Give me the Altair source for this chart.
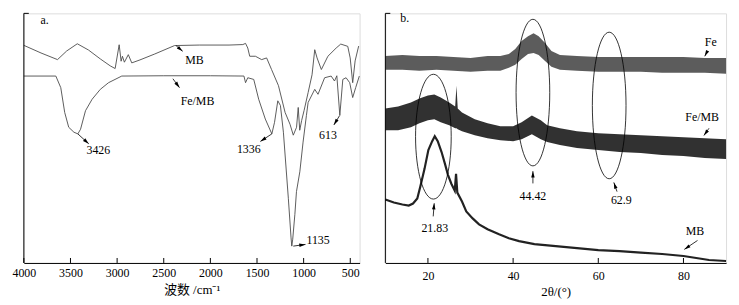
import altair as alt
import pandas as pd
import numpy as np

SERIF = "Liberation Serif, Times New Roman, serif"
CJK = "Liberation Serif, Noto Sans CJK SC, serif"

# ---------------- panel a : FTIR ----------------
mb_ir_wn = [4000, 3816, 3639, 3541, 3427, 3307, 3180, 3074, 3021, 2978,
            2957, 2943, 2922, 2880, 2843, 2755, 2596, 2384, 2119, 1800,
            1652, 1623, 1599, 1578, 1517, 1450, 1397, 1344, 1270, 1199,
            1146, 1111, 1076, 1058, 1042, 1021, 995, 952, 910, 881,
            856, 810, 740, 651, 602, 527, 501, 474, 448, 410]
mb_ir_t = [219.7, 212, 205.3, 214, 221.3, 215, 206, 199, 196.3, 220.3,
           203.7, 208.7, 202.7, 210.3, 202, 205, 211, 219.5, 220, 220,
           220.5, 221.7, 217, 208.7, 208.7, 205.3, 207, 195.3, 179, 152,
           140, 129, 137, 157, 134, 144, 154, 172, 190, 215.3,
           207, 195.3, 208.7, 217, 221, 218.7, 207, 182, 204, 219]

femb_ir_wn = [4000, 3657, 3604, 3562, 3519, 3463, 3421, 3392, 3339, 3268,
              3180, 3092, 2950, 2500, 2000, 1640, 1623, 1599, 1535, 1482,
              1411, 1341, 1312, 1277, 1249, 1217, 1164, 1135, 1127, 1117,
              1094, 1077, 1041, 1006, 970, 952, 881, 846, 775, 705,
              669, 644, 612, 580, 545, 506, 474, 442, 403]
femb_ir_t = [188.7, 188.7, 177, 152, 137, 132, 130.3, 135, 153.7, 165.3,
             175.3, 182, 188.7, 189, 189, 188.7, 182, 187, 185.3, 165.3,
             145.3, 130.3, 142, 163.7, 159, 132, 65.3, 25.3, 17, 24,
             49, 72, 92, 122, 149, 162, 175.3, 170.3, 187, 188.7,
             183.7, 189, 149, 185.3, 187, 182, 167, 177, 188.7]

ftir_ticks = [4000, 3500, 3000, 2500, 2000, 1500, 1000, 500]

a_text = ["a.", "MB", "Fe/MB", "3426", "1336", "613", "1135"]
a_text_wn = [3822, 2170, 2138, 3201, 1588, 739, 845]
a_text_t = [245, 205.3, 163.7, 114, 115.3, 129.3, 22.7]
a_text_align = ["left", "center", "center", "center", "center", "center", "center"]

a_arrow_wn1 = [2367, 2402, 3421, 1341, 615, 1111]
a_arrow_t1 = [219.3, 186, 130.3, 130.3, 148.7, 17]
a_arrow_wn2 = [2297, 2331, 3304, 1464, 676, 980]
a_arrow_t2 = [213.7, 177, 120.3, 122.7, 139.3, 18.7]

# ---------------- panel b : XRD ----------------
fe_tt = [10, 14, 18, 22, 26, 30, 34, 37, 39, 40.5, 42, 43.5, 44.8, 46, 47.5,
         49, 51, 55, 60, 65, 70, 75, 80, 85, 90]
fe_hi = [209, 210, 209, 209, 208, 207, 209, 209, 211, 216, 224, 229, 232, 229,
         222, 214, 210, 209, 208, 208, 208, 208, 208, 207, 207]
fe_lo = [195, 195, 194, 195, 194, 193, 194, 194, 197, 200, 206, 211, 212, 210,
         204, 198, 195, 194, 193, 193, 193, 192, 192, 192, 191]

femb_tt = [10, 13, 16, 18, 20, 21.5, 23, 25, 26.4, 26.7, 27.0, 28, 31, 34, 37,
           40, 42, 44.4, 46.5, 48, 51, 55, 60, 65, 70, 75, 80, 85, 90]
femb_hi = [156, 158, 162, 166, 169, 170, 167, 162, 158, 179, 156, 152, 145,
           141, 138, 138, 142, 149, 144, 139, 136, 133, 131, 130, 129, 128,
           127, 126, 125]
femb_lo = [134, 134, 137, 141, 144, 145, 142, 139, 136, 136, 135, 133, 129,
           126, 124, 123, 125, 130, 125, 122, 119, 116, 114, 112, 111, 109,
           108, 106, 105]

mb_tt = [10, 12, 14, 15.5, 16.5, 17.5, 18.2, 19.2, 20.1, 21,
         21.6, 22.3, 23.2, 24, 24.7, 25.5, 26.3, 26.6, 26.9, 28,
         29, 30.5, 32, 34, 36.7, 39, 41.4, 45, 50, 55,
         60, 65, 70, 75, 80, 83, 86, 88, 90]
mb_int = [64, 61, 59, 58, 60, 65, 77, 95, 114, 123,
          128, 123, 112, 100, 89, 80, 73, 90, 71, 62,
          52, 45, 39, 34, 29, 25, 22, 19, 17, 15,
          13, 12, 10.5, 9, 7, 5, 3, 2.5, 2]

b_text = ["b.", "Fe", "Fe/MB", "MB", "21.83", "44.42", "62.9"]
b_text_tt = [13.5, 86.4, 84.4, 82.7, 21.6, 44.65, 65.4]
b_text_v = [247, 222.7, 147, 32, 35.3, 68, 63.7]
b_text_align = ["left", "center", "center", "center", "center", "center", "center"]

b_arrow_tt1 = [85.6, 86.0, 83.3, 21.24, 44.65, 64.4]
b_arrow_v1 = [213.7, 136, 22.7, 47, 80.3, 72]
b_arrow_tt2 = [85.0, 84.8, 80.2, 21.47, 44.65, 63.65]
b_arrow_v2 = [208.7, 128.7, 13.7, 60.3, 92.7, 81.3]

ell_tt = [21.28, 44.65, 62.56]
ell_v = [127.5, 172, 159]
ell_rx = [18, 17, 17]
ell_ry = [63, 74, 74]

xrd_ticks = [20, 40, 60, 80]

# ---------------- layout constants ----------------
W_A, W_B, H = 339, 344, 252
YMAX = 252
HEAD = "M0,0L0.5,1.8L-0.5,1.8Z"
HEAD_SIZE = 49


def ellipse_path(rx, ry):
    r = rx / ry
    k = 0.5523
    return (f"M0,-1C{k*r:.4f},-1,{r:.4f},-{k},{r:.4f},0"
            f"C{r:.4f},{k},{k*r:.4f},1,0,1"
            f"C-{k*r:.4f},1,-{r:.4f},{k},-{r:.4f},0"
            f"C-{r:.4f},-{k},-{k*r:.4f},-1,0,-1Z")


def axis(values, title, title_font, lab_pad, title_pad):
    return alt.Axis(values=values, ticks=False, grid=False, domainColor="black",
                    domainWidth=1, labelFont=SERIF, labelFontSize=12,
                    labelColor="black", labelFlush=False, labelOverlap=False,
                    labelPadding=lab_pad, format="d", title=title,
                    titleFont=title_font, titleFontSize=13,
                    titleFontWeight="normal", titleColor="black",
                    titlePadding=title_pad)


AXA = axis(ftir_ticks, "波数 /cm⁻¹", CJK, 5, 5)
AXB = axis(xrd_ticks, "2θ/(°)", SERIF, 8, 4)
SX_A = alt.Scale(domain=[4000, 400], nice=False, zero=False)
SX_B = alt.Scale(domain=[10, 90], nice=False, zero=False)
SY = alt.Scale(domain=[0, YMAX], nice=False, zero=False)


def X(field, panel):
    if panel == "a":
        return alt.X(f"{field}:Q", scale=SX_A, axis=AXA)
    return alt.X(f"{field}:Q", scale=SX_B, axis=AXB)


def Y(field):
    return alt.Y(f"{field}:Q", scale=SY, axis=None)


def frame(ticks_df, panel):
    one = pd.DataFrame({"k": [0]})
    yline = alt.Chart(one).mark_rule(color="black", strokeWidth=1).encode(
        x=alt.value(0), y=alt.value(0), y2=alt.value(H))
    stub = alt.Chart(one).mark_rule(color="black", strokeWidth=1).encode(
        x=alt.value(0), x2=alt.value(5), y=alt.value(0))
    tk = alt.Chart(ticks_df).mark_rule(color="black", strokeWidth=1).encode(
        x=X("x", panel), y=alt.value(H), y2=alt.value(H - 5))
    return [yline, stub, tk]


def arrows(x1, v1, x2, v2, kx, sign, panel):
    df = pd.DataFrame({"x": x1, "v": v1, "x2": x2, "v2": v2})
    dx = sign * (df["x2"] - df["x"]) * kx
    dy = -(df["v2"] - df["v"]) * (H / YMAX)
    df["ang"] = np.degrees(np.arctan2(dx, -dy)) % 360
    df["path"] = HEAD
    df["size"] = HEAD_SIZE
    line = alt.Chart(df).mark_rule(color="black", strokeWidth=0.8).encode(
        x=X("x", panel), y=Y("v"), x2="x2:Q", y2="v2:Q")
    head = alt.Chart(df).mark_point(filled=True, color="black", opacity=1,
                                    strokeWidth=0).encode(
        x=X("x2", panel), y=Y("v2"),
        shape=alt.Shape("path:N", scale=None, legend=None),
        size=alt.Size("size:Q", scale=None, legend=None),
        angle=alt.Angle("ang:Q", scale=None))
    return [line, head]


def texts(xs, vs, labels, aligns, panel):
    layers = []
    df = pd.DataFrame({"x": xs, "v": vs, "label": labels, "align": aligns})
    for al in ["left", "center"]:
        sub = df[df["align"] == al]
        layers.append(alt.Chart(sub).mark_text(
            font=SERIF, fontSize=12, color="black", align=al,
            baseline="middle").encode(x=X("x", panel), y=Y("v"), text="label:N"))
    return layers


# ---------------- panel a ----------------
mb_ir = pd.DataFrame({"x": mb_ir_wn, "v": mb_ir_t})
femb_ir = pd.DataFrame({"x": femb_ir_wn, "v": femb_ir_t})
line_mb = alt.Chart(mb_ir).mark_line(color="#4a4a4a", strokeWidth=0.9).encode(
    x=X("x", "a"), y=Y("v"))
line_femb = alt.Chart(femb_ir).mark_line(color="#4a4a4a", strokeWidth=0.9).encode(
    x=X("x", "a"), y=Y("v"))

panel_a = alt.layer(
    line_mb, line_femb,
    *frame(pd.DataFrame({"x": ftir_ticks}), "a"),
    *arrows(a_arrow_wn1, a_arrow_t1, a_arrow_wn2, a_arrow_t2, W_A / 3600, -1, "a"),
    *texts(a_text_wn, a_text_t, a_text, a_text_align, "a"),
).properties(width=W_A, height=H)

# ---------------- panel b ----------------
fe_df = pd.DataFrame({"x": fe_tt, "lo": fe_lo, "hi": fe_hi})
femb_df = pd.DataFrame({"x": femb_tt, "lo": femb_lo, "hi": femb_hi})
mb_df = pd.DataFrame({"x": mb_tt, "v": mb_int})

band_fe = alt.Chart(fe_df).mark_area(color="#333333", opacity=0.8).encode(
    x=X("x", "b"), y=Y("lo"), y2="hi:Q")
band_femb = alt.Chart(femb_df).mark_area(color="#151515", opacity=0.88).encode(
    x=X("x", "b"), y=Y("lo"), y2="hi:Q")
line_mbx = alt.Chart(mb_df).mark_line(color="#222222", strokeWidth=2.2).encode(
    x=X("x", "b"), y=Y("v"))

ell_df = pd.DataFrame({"x": ell_tt, "v": ell_v,
                       "path": [ellipse_path(a, b) for a, b in zip(ell_rx, ell_ry)],
                       "size": [(2 * b) ** 2 for b in ell_ry]})
ells = alt.Chart(ell_df).mark_point(filled=False, color="black", opacity=1,
                                    strokeWidth=0.8).encode(
    x=X("x", "b"), y=Y("v"),
    shape=alt.Shape("path:N", scale=None, legend=None),
    size=alt.Size("size:Q", scale=None, legend=None))

panel_b = alt.layer(
    band_fe, band_femb, line_mbx, ells,
    *frame(pd.DataFrame({"x": xrd_ticks}), "b"),
    *arrows(b_arrow_tt1, b_arrow_v1, b_arrow_tt2, b_arrow_v2, W_B / 80, 1, "b"),
    *texts(b_text_tt, b_text_v, b_text, b_text_align, "b"),
).properties(width=W_B, height=H)

chart = alt.hconcat(panel_a, panel_b, spacing=18).properties(
    padding={"left": 3, "top": 2, "right": 0, "bottom": 0}
).configure_view(stroke=None).configure(background="white")

chart.save("out.html", embed_options={"renderer": "svg", "actions": False})
